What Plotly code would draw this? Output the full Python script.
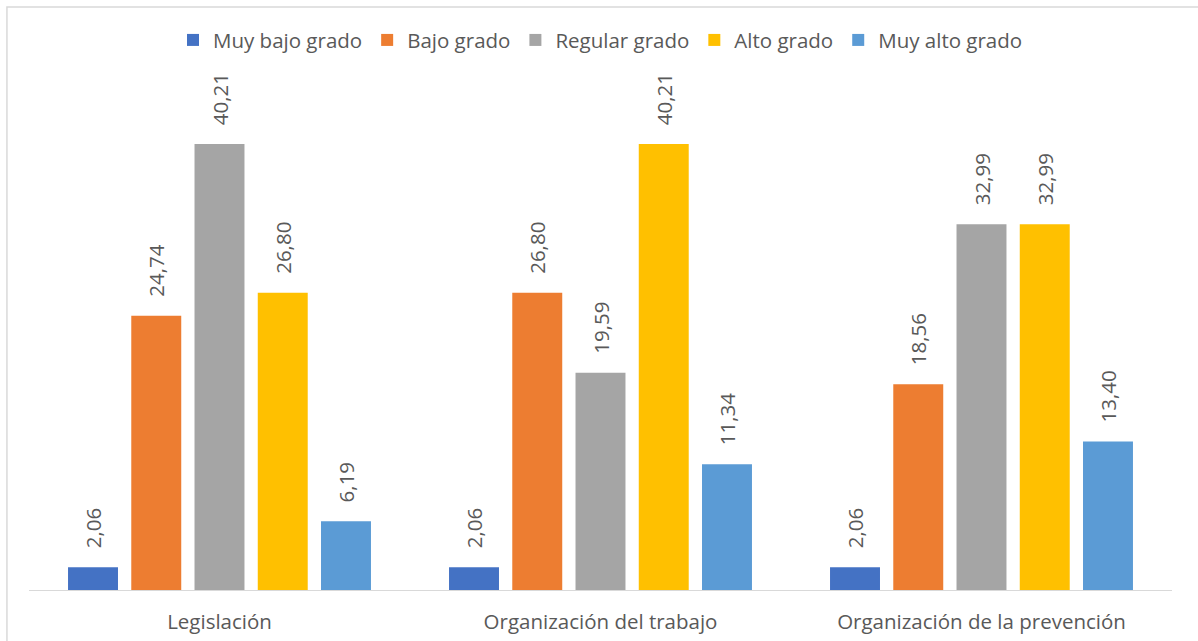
import plotly.graph_objects as go

categories = ["Legislación", "Organización del trabajo", "Organización de la prevención"]
series_names = ["Muy bajo grado", "Bajo grado", "Regular grado", "Alto grado", "Muy alto grado"]
muy_bajo = [2.06, 2.06, 2.06]
bajo = [24.74, 26.80, 18.56]
regular = [40.21, 19.59, 32.99]
alto = [26.80, 40.21, 32.99]
muy_alto = [6.19, 11.34, 13.40]
values = [muy_bajo, bajo, regular, alto, muy_alto]
colors = ["#4472C4", "#ED7D31", "#A5A5A5", "#FFC000", "#5B9BD5"]

FONT = "Open Sans"
TXT = "#595959"
PAD = "\u00a0\u00a0\u00a0"

fig = go.Figure()
for name, vals, col in zip(series_names, values, colors):
    fig.add_trace(go.Bar(
        name=name, x=categories, y=vals, marker=dict(color=col, line=dict(width=0)),
        texttemplate=PAD + "%{y:.2f}", textposition="outside", textangle=-90,
        constraintext="none",
        textfont=dict(family=FONT, size=20.5, color=TXT), cliponaxis=False,
    ))

fig.update_layout(
    width=1198, height=641,
    margin=dict(l=29, r=26, t=91, b=51, autoexpand=False),
    paper_bgcolor="white", plot_bgcolor="white",
    barmode="group", bargap=0.17, bargroupgap=0.21,
    separators=",.",
    font=dict(family=FONT, size=20, color=TXT),
    legend=dict(orientation="h", x=0.5, xanchor="center", y=1.102, yanchor="middle",
                font=dict(family=FONT, size=20.5, color=TXT), traceorder="normal"),
    xaxis=dict(showline=True, linecolor="#D9D9D9", linewidth=1, showgrid=False,
               automargin=False,
               ticks="outside", ticklen=13, tickcolor="rgba(0,0,0,0)",
               tickfont=dict(family=FONT, size=20.5, color=TXT)),
    yaxis=dict(range=[0, 45], visible=False, showgrid=False, automargin=False),
    shapes=[dict(type="rect", xref="paper", yref="paper",
                 x0=-0.0193, x1=1.05, y0=-0.15, y1=1.1683,
                 line=dict(color="#D9D9D9", width=1.5), fillcolor="rgba(0,0,0,0)", layer="below")],
)

fig.write_html("out.html")
